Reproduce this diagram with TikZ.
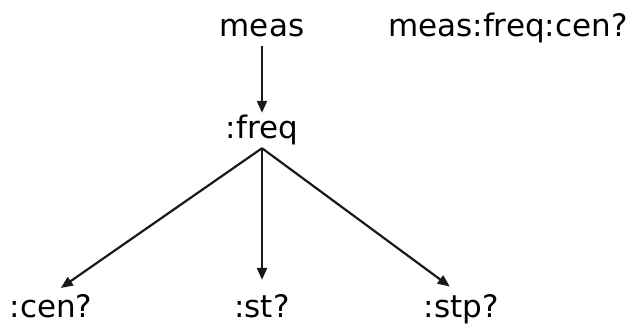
\documentclass[tikz,border=0pt]{standalone}
\usepackage{fontspec}
\setmainfont{DejaVu Sans}
\usepackage{tikz}
\usetikzlibrary{arrows.meta}

\begin{document}
\begin{tikzpicture}[x=1pt,y=1pt,>={Triangle[length=12pt,width=10pt]},
  lbl/.style={inner sep=0pt,text height=22pt,text depth=10pt,font=\fontsize{31}{36}\selectfont},
  edge/.style={->,line width=2.2pt,black!90}]
  \useasboundingbox (0,0) rectangle (639,325);
  \node[lbl,anchor=base] (meas) at (262,289) {meas};
  \node[lbl,anchor=base west] (full) at (388,289) {meas:freq:cen?};
  \node[lbl,anchor=base] (freq) at (262,187) {:freq};
  \node[lbl,anchor=base] (cen) at (51,8) {:cen?};
  \node[lbl,anchor=base] (st) at (262,8) {:st?};
  \node[lbl,anchor=base] (stp) at (461,8) {:stp?};
  \draw[edge,shorten >=3pt] (meas.south) -- (freq.north);
  \draw[edge,shorten >=12pt] (freq.south) -- (cen.north);
  \draw[edge,shorten >=15pt] (freq.south) -- (st.north);
  \draw[edge,shorten >=14pt] (freq.south) -- (stp.north);
\end{tikzpicture}
\end{document}
